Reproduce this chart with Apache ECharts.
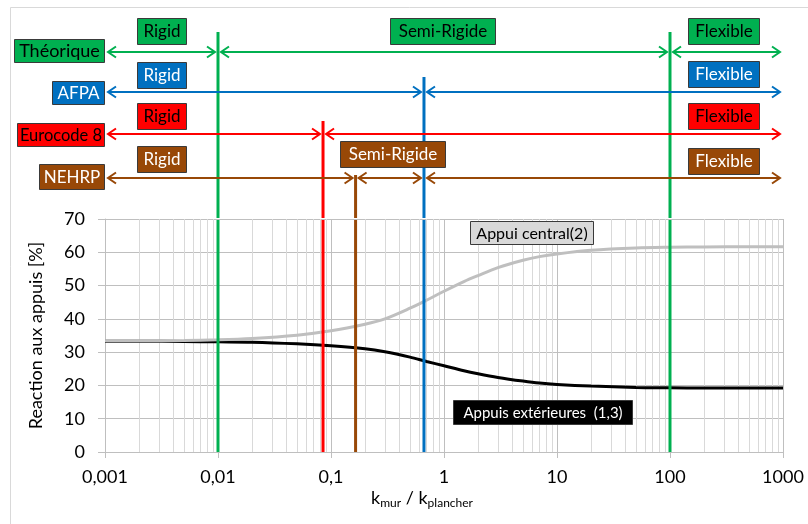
<!DOCTYPE html>
<html>
<head>
<meta charset="utf-8">
<script src="https://cdn.jsdelivr.net/npm/echarts@6/dist/echarts.min.js"></script>
<style>
  html, body { margin: 0; padding: 0; background: #fff; }
  #chart { width: 808px; height: 524px; }
</style>
</head>
<body>
<div id="chart"></div>
<script>
// ---------------- DATA ----------------
const kRatio = [0.001, 0.002, 0.005, 0.01, 0.02, 0.05, 0.1, 0.2, 0.3, 0.5, 0.7, 1, 1.5, 2, 3, 5, 7, 10, 20, 50, 100, 200, 500, 1000];
const appuiCentral = [33.4, 33.4, 33.5, 33.7, 34.1, 35.1, 36.4, 38.4, 40.0, 43.2, 45.6, 48.3, 51.2, 53.0, 55.4, 57.6, 58.7, 59.5, 60.6, 61.3, 61.5, 61.6, 61.7, 61.7];
const appuisExterieurs = [33.3, 33.3, 33.2, 33.1, 33.0, 32.5, 31.9, 31.0, 30.1, 28.5, 27.2, 25.9, 24.4, 23.5, 22.4, 21.3, 20.7, 20.3, 19.8, 19.4, 19.3, 19.2, 19.2, 19.2];
const curveNames = ['Appui central(2)', 'Appuis extérieures  (1,3)'];

const xTickValues = [0.001, 0.01, 0.1, 1, 10, 100, 1000];
const xTickLabels = ['0,001', '0,01', '0,1', '1', '10', '100', '1000'];
const yTickLabels = ['0', '10', '20', '30', '40', '50', '60', '70'];

const schemes = ['Théorique', 'AFPA', 'Eurocode 8', 'NEHRP'];
const schemeBounds = [[0.01, 100], [0.665], [0.085], [0.165, 0.665]];
const schemeZones = [
  ['Rigid', 'Semi-Rigide', 'Flexible'],
  ['Rigid', 'Flexible'],
  ['Rigid', 'Flexible'],
  ['Rigid', 'Semi-Rigide', 'Flexible']
];

const yAxisName = 'Reaction aux appuis [%]';

// ---------------- LAYOUT / STYLE ----------------
const X_MIN = 0.001, X_MAX = 1000;
const HEADER_H = 219;
const FONT = 'Lato';
const schemeColors = ['#00B050', '#0070C0', '#FF0000', '#984807'];
const schemeTextColors = ['#000000', '#ffffff', '#000000', '#ffffff'];
const rowY = [52, 92, 134, 178];
const nameBoxW = [90, 52, 87, 65];
const nameBoxH = [23, 23, 23, 25];
const nameBoxCY = [50.5, 92.5, 134.5, 176.5];
const nameFont = [18, 17, 16.5, 17];
const zoneX = [[0.00316, 0.97, 297], [0.00316, 297], [0.00316, 297], [0.00316, 0.347, 297]];
const zoneY = [[31, 31, 30.5], [74.5, 73.5], [115.5, 116], [159, 154, 160.5]];
const zoneBoxW = { 'Rigid': 49, 'Semi-Rigide': 105, 'Flexible': 71 };
const boundTop = [[32, 32], [77], [121], [175, null]];
const curveLabelPos = [[5.94, 65.9], [7.37, 11.9]];
const curveLabelBox = [[123, 23], [179, 24]];
const curveLabelStyle = [
  { fill: '#D9D9D9', text: '#000000', font: 16 },
  { fill: '#000000', text: '#ffffff', font: 15 }
];
const curveColors = ['#BFBFBF', '#000000'];

// ---------------- BUILD ----------------
const lineData0 = kRatio.map((k, i) => [k, appuiCentral[i]]);
const lineData1 = kRatio.map((k, i) => [k, appuisExterieurs[i]]);

const minorVals = [];
for (let d = 0; d < xTickValues.length - 1; d++) {
  for (let m = 2; m <= 9; m++) minorVals.push([xTickValues[d] * m, 0]);
}

const arrowData = [];
schemes.forEach((s, i) => {
  const edges = [X_MIN].concat(schemeBounds[i], [X_MAX]);
  for (let j = 0; j < edges.length - 1; j++) arrowData.push([edges[j], edges[j + 1], rowY[i], i]);
});

const vLines = [];
const seen = {};
schemeBounds.forEach((b, i) => b.forEach((x, j) => {
  if (seen[x] !== undefined) return;
  seen[x] = i;
  vLines.push([x, boundTop[i][j], i]);
}));

const labelItems = [];
schemes.forEach((s, i) => {
  labelItems.push({ value: [X_MIN, nameBoxCY[i]], kind: 'name', row: i, text: s });
  schemeZones[i].forEach((z, j) => {
    labelItems.push({ value: [zoneX[i][j], zoneY[i][j]], kind: 'zone', row: i, text: z });
  });
});

function crisp(v) { return Math.round(v) + 0.5; }

function boxWithText(cx, cy, w, h, fill, textColor, text, fontSize) {
  const x0 = Math.round(cx - w / 2) + 0.5, y0 = Math.round(cy - h / 2) + 0.5;
  return [
    { type: 'rect', shape: { x: x0, y: y0, width: w, height: h },
      style: { fill: fill, stroke: '#3a3a3a', lineWidth: 1 } },
    { type: 'text', x: x0 + w / 2, y: y0 + h / 2 + 0.5,
      style: { text: text, fill: textColor, font: fontSize + 'px ' + FONT,
               align: 'center', verticalAlign: 'middle' } }
  ];
}

const chart = echarts.init(document.getElementById('chart'), null, { renderer: 'canvas' });

const option = {
  animation: false,
  backgroundColor: '#ffffff',
  textStyle: { fontFamily: FONT },
  graphic: [{
    type: 'rect', shape: { x: 10.5, y: 7.5, width: 820, height: 540 },
    style: { fill: null, stroke: '#D9D9D9', lineWidth: 1 }, silent: true, z: -10
  }],
  grid: [
    { left: 105, right: 25, top: HEADER_H, bottom: 72 },
    { left: 105, right: 25, top: 0, height: HEADER_H }
  ],
  xAxis: [
    {
      type: 'log', logBase: 10, min: X_MIN, max: X_MAX, splitNumber: 6, gridIndex: 0,
      name: '{k|k}{s|mur}{k| / k}{s|plancher}',
      nameLocation: 'middle', nameGap: 36,
      nameTextStyle: {
        padding: [0, 44, 0, 0],
        rich: {
          k: { fontFamily: FONT, fontSize: 18, color: '#000' },
          s: { fontFamily: FONT, fontSize: 12, color: '#000', padding: [9, 0, 0, 0] }
        }
      },
      axisLine: { show: true, lineStyle: { color: '#BFBFBF', width: 1 } },
      axisTick: { show: true, length: 6, lineStyle: { color: '#BFBFBF' } },
      axisLabel: {
        margin: 16, fontFamily: FONT, fontSize: 18, color: '#000',
        formatter: v => {
          const idx = xTickValues.findIndex(t => Math.abs(Math.log10(t) - Math.log10(v)) < 1e-6);
          return idx >= 0 ? xTickLabels[idx] : '';
        }
      },
      splitLine: { show: true, lineStyle: { color: '#BFBFBF', width: 1 } },
      minorTick: { show: false }, minorSplitLine: { show: false }
    },
    {
      type: 'log', logBase: 10, min: X_MIN, max: X_MAX, gridIndex: 1, show: false
    }
  ],
  yAxis: [
    {
      type: 'value', min: 0, max: 70, interval: 10, gridIndex: 0,
      name: yAxisName, nameLocation: 'middle', nameGap: 60, nameRotate: 90,
      nameTextStyle: { fontFamily: FONT, fontSize: 18, color: '#000' },
      axisLine: { show: true, lineStyle: { color: '#BFBFBF', width: 1 } },
      axisTick: { show: true, length: 7, lineStyle: { color: '#BFBFBF' } },
      axisLabel: {
        margin: 20, fontFamily: FONT, fontSize: 18, color: '#000',
        formatter: (v) => yTickLabels[Math.round(v / 10)]
      },
      splitLine: { show: true, lineStyle: { color: '#BFBFBF', width: 1 } }
    },
    {
      type: 'value', min: 0, max: HEADER_H, inverse: true, gridIndex: 1, show: false
    }
  ],
  series: [
    {
      type: 'custom', name: 'minor', xAxisIndex: 0, yAxisIndex: 0, silent: true, z: 1,
      data: minorVals, encode: { x: 0, y: 1 },
      renderItem: (params, api) => {
        const v = api.value(0);
        const p0 = api.coord([v, 0]), p1 = api.coord([v, 70]);
        const x = crisp(p0[0]);
        return { type: 'line', shape: { x1: x, y1: p0[1], x2: x, y2: p1[1] },
                 style: { stroke: '#D9D9D9', lineWidth: 1 } };
      }
    },
    {
      type: 'line', name: curveNames[1], xAxisIndex: 0, yAxisIndex: 0, data: lineData1,
      smooth: 0.3, showSymbol: false, symbol: 'none', z: 3,
      lineStyle: { color: curveColors[1], width: 3 }
    },
    {
      type: 'line', name: curveNames[0], xAxisIndex: 0, yAxisIndex: 0, data: lineData0,
      smooth: 0.3, showSymbol: false, symbol: 'none', z: 4,
      lineStyle: { color: curveColors[0], width: 3 }
    },
    {
      type: 'custom', name: 'bounds-plot', xAxisIndex: 0, yAxisIndex: 0, silent: true, z: 5,
      data: vLines.map(v => [v[0], 0, v[2]]), encode: { x: 0, y: 1 },
      renderItem: (params, api) => {
        const x = api.value(0), c = api.value(2);
        const p0 = api.coord([x, 0]), p1 = api.coord([x, 70]);
        return { type: 'line', shape: { x1: p0[0], y1: p0[1], x2: p0[0], y2: p1[1] + 1 },
                 style: { stroke: schemeColors[c], lineWidth: 3 } };
      }
    },
    {
      type: 'custom', name: 'bounds-header', xAxisIndex: 1, yAxisIndex: 1, silent: true, z: 5, clip: false,
      data: vLines, encode: { x: 0, y: 1 },
      renderItem: (params, api) => {
        const x = api.value(0), top = api.value(1), c = api.value(2);
        const p0 = api.coord([x, top]), p1 = api.coord([x, HEADER_H]);
        return { type: 'line', shape: { x1: p0[0], y1: p0[1], x2: p0[0], y2: p1[1] - 1 },
                 style: { stroke: schemeColors[c], lineWidth: 3 } };
      }
    },
    {
      type: 'custom', name: 'arrows', xAxisIndex: 1, yAxisIndex: 1, silent: true, z: 6, clip: false,
      data: arrowData, encode: { x: [0, 1], y: 2 },
      renderItem: (params, api) => {
        const x1 = api.value(0), x2 = api.value(1), y = api.value(2), c = api.value(3);
        const p1 = api.coord([x1, y]), p2 = api.coord([x2, y]);
        const a = p1[0] + 3, b = p2[0] - 3, yy = p1[1];
        const col = schemeColors[c];
        const st = { stroke: col, lineWidth: 2, fill: null };
        return { type: 'group', children: [
          { type: 'line', shape: { x1: a, y1: yy, x2: b, y2: yy }, style: st },
          { type: 'polyline', shape: { points: [[a + 8, yy - 5.5], [a, yy], [a + 8, yy + 5.5]] }, style: st },
          { type: 'polyline', shape: { points: [[b - 8, yy - 5.5], [b, yy], [b - 8, yy + 5.5]] }, style: st }
        ] };
      }
    },
    {
      type: 'custom', name: 'scheme-labels', xAxisIndex: 1, yAxisIndex: 1, silent: true, z: 7, clip: false,
      data: labelItems.map((d, i) => [d.value[0], d.value[1], i]), encode: { x: 0, y: 1 },
      renderItem: (params, api) => {
        const item = labelItems[api.value(2)];
        const p = api.coord([api.value(0), api.value(1)]);
        const r = item.row;
        if (item.kind === 'name') {
          const w = nameBoxW[r], h = nameBoxH[r];
          return { type: 'group', children:
            boxWithText(p[0] - 1 - w / 2, p[1], w, h, schemeColors[r], schemeTextColors[r], item.text, nameFont[r]) };
        }
        const w = zoneBoxW[item.text];
        return { type: 'group', children:
          boxWithText(p[0], p[1], w, 26, schemeColors[r], schemeTextColors[r], item.text, 17) };
      }
    },
    {
      type: 'custom', name: 'curve-labels', xAxisIndex: 0, yAxisIndex: 0, silent: true, z: 8, clip: false,
      data: curveLabelPos.map((p, i) => [p[0], p[1], i]), encode: { x: 0, y: 1 },
      renderItem: (params, api) => {
        const i = api.value(2);
        const p = api.coord([api.value(0), api.value(1)]);
        const s = curveLabelStyle[i];
        return { type: 'group', children:
          boxWithText(p[0], p[1], curveLabelBox[i][0], curveLabelBox[i][1], s.fill, s.text, curveNames[i], s.font) };
      }
    }
  ]
};

chart.setOption(option);
</script>
</body>
</html>
